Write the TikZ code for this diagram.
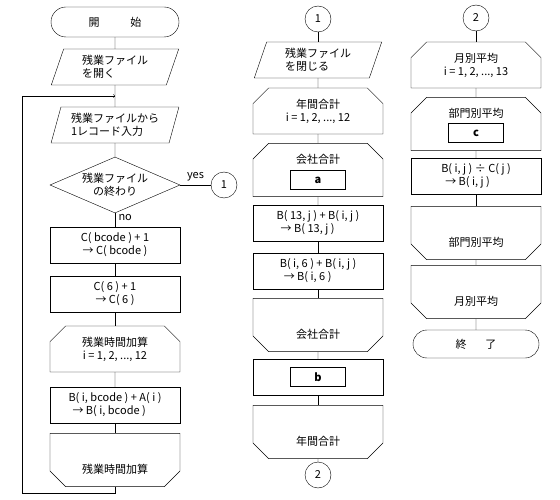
\documentclass[tikz,border=0pt]{standalone}
\usepackage{fontspec}
\setmainfont{Noto Sans CJK JP}
\usetikzlibrary{shapes.geometric, shapes.misc, positioning, arrows}

\tikzset{
  base/.style={draw, inner sep=1pt},
  proc/.style={base, rectangle, minimum width=130, minimum height=36, align=center},
  io/.style={base, trapezium, trapezium left angle=72, trapezium right angle=108,
    trapezium stretches=true, minimum width=128, minimum height=36, align=left},
  term/.style={base, rounded rectangle, minimum width=130, minimum height=30},
  decide/.style={base, diamond, aspect=2.3, minimum width=130, minimum height=56, align=center},
  conn/.style={base, circle, minimum size=26},
  loopbox/.style={base, chamfered rectangle, chamfered rectangle xsep=12pt,
    minimum width=130, minimum height=46, align=center},
  loopstart/.style={loopbox, chamfered rectangle corners={north west, north east}},
  loopstarttop/.style={loopstart, inner ysep=0pt, text height=17pt, text depth=29pt},
  loopend/.style={loopbox, chamfered rectangle corners={south west, south east},
    inner ysep=0pt, text height=36pt, text depth=10pt},
  markbox/.style={draw, line width=1.6pt, minimum width=55, minimum height=19,
    inner sep=0pt, font=\fontsize{11}{13}\selectfont\bfseries}
}

\begin{document}
\begin{tikzpicture}[x=1pt, y=-1pt, font=\fontsize{11}{13}\selectfont]
\useasboundingbox (0,0) rectangle (560,500);

% left column
\node[term] (start) at (115,22) {開\hspace{2.8em}始};
\node[io] (open) at (115,67) {残業ファイル\\を開く};
\node[io] (read) at (115,125) {残業ファイルから\\1レコード入力};
\node[decide] (eof) at (115,185) {残業ファイル\\の終わり};
\node[conn] (out1) at (224,185) {1};
\node[proc] (cnt) at (115,245) {C( bcode ) + 1\\→ C( bcode )};
\node[proc] (cnt6) at (115,294) {C( 6 ) + 1\\→ C( 6 )};
\node[loopstart] (addloop) at (115,349) {残業時間加算\\i = 1, 2, ..., 12};
\node[proc, align=left] (addB) at (115,405) {B( i, bcode ) + A( i )\\\hspace{4pt}→ B( i, bcode )};
\node[loopend] (addend) at (115,460) {残業時間加算};

\foreach \a/\b in {start/open, open/read, read/eof, cnt/cnt6, cnt6/addloop, addloop/addB, addB/addend}
  \draw (\a) -- (\b);
\draw (eof) -- node[above] {yes} (out1);
\draw (eof) -- node[right, pos=0.3] {no} (cnt);

% loop back
\coordinate (loopin) at (115,96);
\coordinate (loopcorner) at (22,493);
\draw[->] (addend.south) |- (loopcorner) |- (loopin);

% middle column
\node[conn] (in1) at (318,19) {1};
\node[io] (close) at (318,60) {残業ファイル\\を閉じる};
\node[loopstart] (yearloop) at (318,111) {年間合計\\i = 1, 2, ..., 12};
\node[loopstarttop] (comploop) at (318,170) {会社合計};
\node[markbox] (a) at (318,180) {a};
\node[proc, align=left] (sum13) at (318,223) {B( 13, j ) + B( i, j )\\\hspace{4pt}→ B( 13, j )};
\node[proc, align=left] (sum6) at (318,271) {B( i, 6 ) + B( i, j )\\\hspace{4pt}→ B( i, 6 )};
\node[loopend] (compend) at (318,325) {会社合計};
\node[proc] (bproc) at (318,377) {};
\node[markbox] (b) at (318,377) {b};
\node[loopend] (yearend) at (318,432) {年間合計};
\node[conn] (out2) at (318,475) {2};

\foreach \a/\b in {in1/close, close/yearloop, yearloop/comploop, comploop/sum13, sum13/sum6,
  sum6/compend, compend/bproc, bproc/yearend, yearend/out2}
  \draw (\a) -- (\b);

% right column
\node[conn] (in2) at (476,18) {2};
\node[loopstart] (monloop) at (476,65) {月別平均\\i = 1, 2, ..., 13};
\node[loopstarttop] (deptloop) at (476,124) {部門別平均};
\node[markbox] (c) at (476,133) {c};
\node[proc, align=left] (avg) at (476,176) {B( i, j ) ÷ C( j )\\\hspace{4pt}→ B( i, j )};
\node[loopend] (deptend) at (476,233) {部門別平均};
\node[loopend] (monend) at (476,292) {月別平均};
\node[term, minimum width=128, minimum height=28] (stop) at (476,344) {終\hspace{1.7em}了};

\foreach \a/\b in {in2/monloop, monloop/deptloop, deptloop/avg, avg/deptend, deptend/monend, monend/stop}
  \draw (\a) -- (\b);
\end{tikzpicture}
\end{document}
